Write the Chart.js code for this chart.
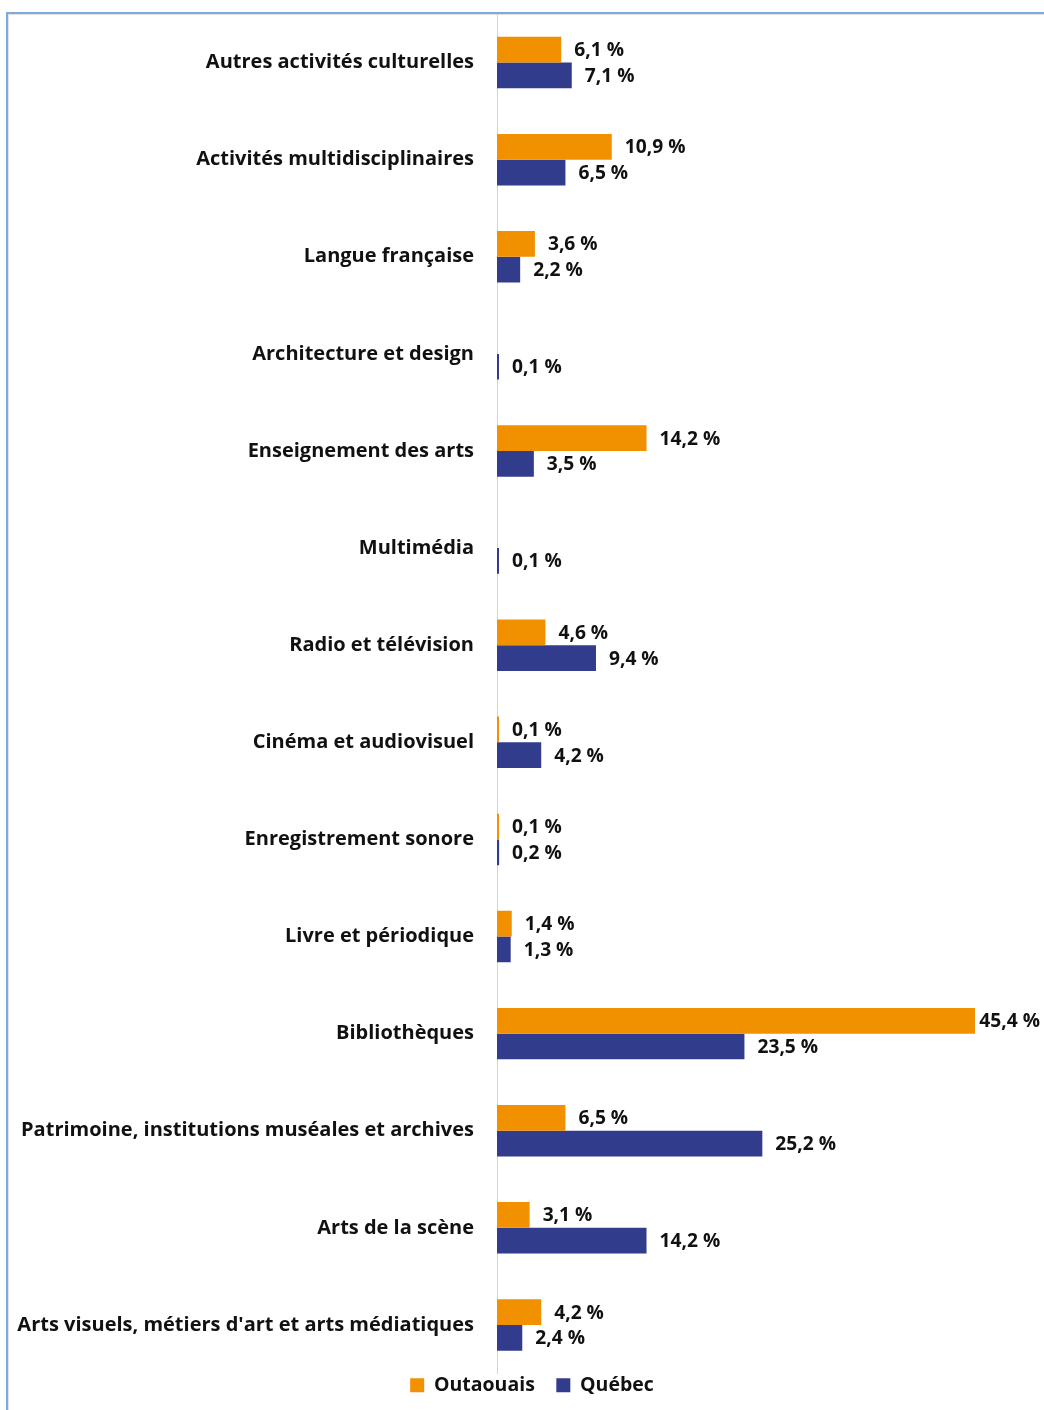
<!DOCTYPE html>
<html lang="fr">
<head>
<meta charset="utf-8">
<script src="https://cdn.jsdelivr.net/npm/chart.js@4.4.1/dist/chart.umd.min.js"></script>
<style>
  html, body { margin: 0; padding: 0; background: #fff; overflow: hidden; }
  body { width: 1044px; height: 1410px; position: relative; }
  .frame {
    position: absolute; left: 6px; top: 12px; width: 1100px; height: 1500px;
    border-left: 2px solid #7ea9dc; border-top: 2px solid #7ea9dc;
    box-shadow: inset 1px 1px 0 #e2e2e2;
  }
  .wrap { position: absolute; left: 10px; top: -21px; width: 1044px; height: 1434px; }
</style>
</head>
<body>
<div class="frame"></div>
<div class="wrap"><canvas id="chart" width="1044" height="1434"></canvas></div>
<script>
const categories = [
  "Autres activités culturelles",
  "Activités multidisciplinaires",
  "Langue française",
  "Architecture et design",
  "Enseignement des arts",
  "Multimédia",
  "Radio et télévision",
  "Cinéma et audiovisuel",
  "Enregistrement sonore",
  "Livre et périodique",
  "Bibliothèques",
  "Patrimoine, institutions muséales et archives",
  "Arts de la scène",
  "Arts visuels, métiers d'art et arts médiatiques"
];
const outaouais = [6.1, 10.9, 3.6, null, 14.2, null, 4.6, 0.1, 0.1, 1.4, 45.4, 6.5, 3.1, 4.2];
const quebec    = [7.1, 6.5, 2.2, 0.1, 3.5, 0.1, 9.4, 4.2, 0.2, 1.3, 23.5, 25.2, 14.2, 2.4];
const seriesNames = ["Outaouais", "Québec"];

const FONT = "'Open Sans', 'Noto Sans', sans-serif";
const VISIBLE_RIGHT = 1030;

function fmt(v) {
  return v.toFixed(1).replace(".", ",") + " %";
}

// Writes each bar's value just past its end
const valueLabels = {
  id: "valueLabels",
  afterDatasetsDraw(chart) {
    const ctx = chart.ctx;
    ctx.save();
    ctx.font = "bold 19.2px " + FONT;
    ctx.fillStyle = "#111";
    ctx.textBaseline = "middle";
    ctx.textAlign = "left";
    chart.data.datasets.forEach((ds, i) => {
      const meta = chart.getDatasetMeta(i);
      meta.data.forEach((el, j) => {
        const v = ds.data[j];
        if (v === null || v === undefined) return;
        const txt = fmt(v);
        const w = ctx.measureText(txt).width;
        let x = el.x + 13;
        if (x + w > VISIBLE_RIGHT) x = VISIBLE_RIGHT - w;
        ctx.fillText(txt, x, el.y + 1);
      });
    });
    ctx.restore();
  }
};

new Chart(document.getElementById("chart"), {
  type: "bar",
  data: {
    labels: categories,
    datasets: [
      { label: seriesNames[0], data: outaouais, backgroundColor: "#f29100", minBarLength: 2 },
      { label: seriesNames[1], data: quebec, backgroundColor: "#323c8c", minBarLength: 2 }
    ]
  },
  options: {
    indexAxis: "y",
    responsive: false,
    animation: false,
    devicePixelRatio: 1,
    categoryPercentage: 0.53,
    barPercentage: 1.0,
    layout: { padding: { top: 13, right: 0, bottom: 8, left: 0 } },
    scales: {
      x: {
        display: false,
        min: 0,
        max: 52.9
      },
      y: {
        grid: { display: false, drawTicks: false },
        border: { display: true, color: "#d4d4d4", width: 1 },
        afterFit(scale) { scale.width = 487; },
        ticks: {
          padding: 23,
          color: "#111",
          font: { family: FONT, size: 20, weight: "bold" }
        }
      }
    },
    plugins: {
      tooltip: { enabled: false },
      legend: {
        position: "bottom",
        labels: {
          boxWidth: 14,
          boxHeight: 14,
          padding: 2,
          color: "#111",
          font: { family: FONT, size: 19.5, weight: "bold" },
          generateLabels(chart) {
            const items = Chart.defaults.plugins.legend.labels.generateLabels(chart);
            items.forEach((it, i) => { if (i < items.length - 1) it.text += "\u2003"; });
            return items;
          }
        }
      }
    }
  },
  plugins: [valueLabels]
});
</script>
</body>
</html>
